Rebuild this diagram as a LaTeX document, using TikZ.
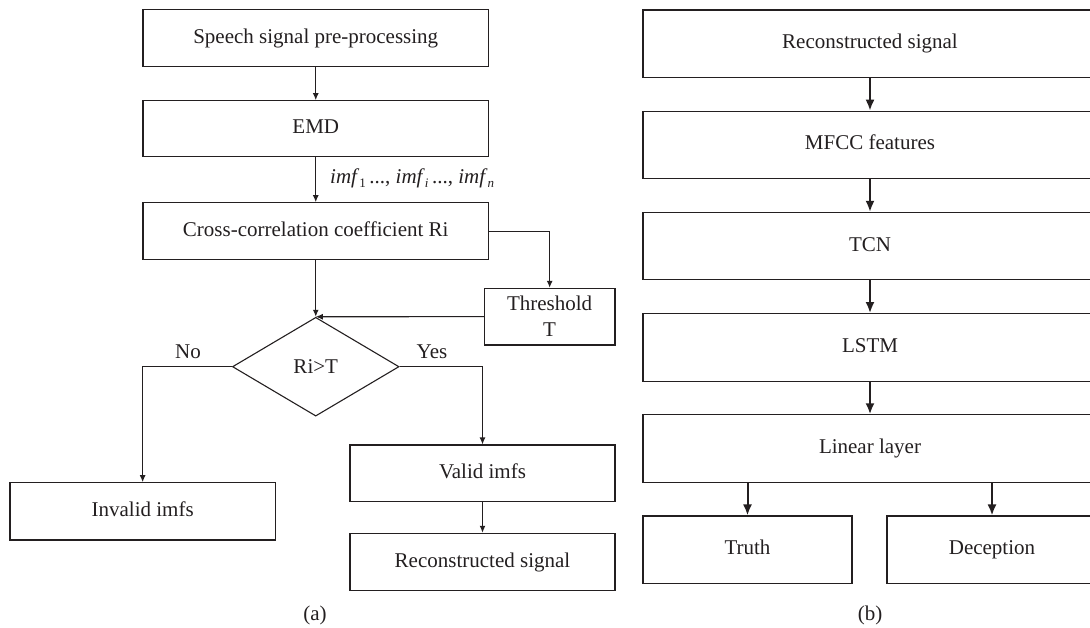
\documentclass[tikz,border=0pt]{standalone}
\usepackage{fontspec}
\setmainfont{Liberation Serif}
\usetikzlibrary{shapes.geometric,arrows.meta}
\definecolor{ink}{HTML}{231F20}
\tikzset{
  box/.style={draw=ink, line width=1.1pt, rectangle, inner sep=0pt, text=ink, font=\fontsize{21}{24}\selectfont},
  onebox/.style={box, text height=14pt, text depth=4pt},
  dbox/.style={draw=ink, line width=1.1pt, diamond, inner sep=0pt, text=ink, font=\fontsize{21}{24}\selectfont},
  lbl/.style={text=ink, inner sep=0pt, font=\fontsize{21}{24}\selectfont},
  thinarrow/.style={draw=ink, line width=1.1pt, -{Latex[length=7pt,width=6pt]}},
  thickarrow/.style={draw=ink, line width=2pt, -{Latex[length=11pt,width=9pt]}},
}
\newcommand{\subi}[1]{\raisebox{-0.5ex}{\fontsize{13}{13}\selectfont #1}}
\begin{document}
\begin{tikzpicture}[x=1pt,y=-1pt]
\useasboundingbox (0,0) rectangle (1090,627);
% ---------- (a) ----------
\node[onebox, minimum width=345.5pt, minimum height=57.4pt] (sp) at (315.75,38) {Speech signal pre-processing};
\node[onebox, minimum width=345.5pt, minimum height=56pt] (emd) at (315.75,128.7) {EMD};
\node[onebox, minimum width=345.5pt, minimum height=56.8pt] (cc) at (315.75,231.1) {Cross-correlation coefficient Ri\hspace{25pt}};
\node[dbox, minimum width=166.6pt, minimum height=98.8pt] (dia) at (315.75,366.7) {Ri>T};
\node[box, minimum width=130.7pt, minimum height=56.7pt, align=center] (thr) at (549.65,316.65) {Threshold\\[2pt]T};
\node[onebox, minimum width=265.3pt, minimum height=57.3pt] (inv) at (142.65,511.35) {Invalid imfs};
\node[onebox, minimum width=265pt, minimum height=56.7pt] (val) at (482.5,473.35) {Valid imfs};
\node[onebox, minimum width=265pt, minimum height=57.4pt] (reca) at (482.5,562) {Reconstructed signal};

\draw[thinarrow] (sp.south) -- (emd.north);
\draw[thinarrow] (emd.south) -- (cc.north);
\draw[thinarrow] (cc.south) -- (dia.north);
\draw[thinarrow] (cc.east) -| (thr.north);
\draw[thinarrow] (thr.west) -- (dia.north);
\draw[thinarrow] (dia.west) -| (inv.north);
\draw[thinarrow] (dia.east) -| (val.north);
\draw[thinarrow] (val.south) -- (reca.north);

\node[lbl, anchor=base west] (imf) at (330,183) {\textit{imf}\subi{1}\,..., \textit{imf}\subi{\itshape i}\,..., \textit{imf}\subi{\itshape n}};
\node[lbl] (no) at (188,352) {No};
\node[lbl] (yes) at (432,352) {Yes};
\node[lbl] (capa) at (315,615) {(a)};

% ---------- (b) ----------
\node[onebox, minimum width=454pt, minimum height=67.5pt] (recb) at (870,43.75) {Reconstructed signal};
\node[onebox, minimum width=454pt, minimum height=67.5pt] (mfcc) at (870,144.95) {MFCC features};
\node[onebox, minimum width=454pt, minimum height=67.5pt] (tcn) at (870,246.15) {TCN};
\node[onebox, minimum width=454pt, minimum height=67.5pt] (lstm) at (870,347.35) {LSTM};
\node[onebox, minimum width=454pt, minimum height=67.5pt] (lin) at (870,448.55) {Linear layer};
\node[onebox, minimum width=209pt, minimum height=67.5pt] (truth) at (747.5,549.75) {Truth};
\node[onebox, minimum width=210pt, minimum height=67.5pt] (dec) at (992,549.75) {Deception};

\draw[thickarrow] (recb.south) -- (mfcc.north);
\draw[thickarrow] (mfcc.south) -- (tcn.north);
\draw[thickarrow] (tcn.south) -- (lstm.north);
\draw[thickarrow] (lstm.south) -- (lin.north);
\draw[thickarrow] (truth.north |- lin.south) -- (truth.north);
\draw[thickarrow] (dec.north |- lin.south) -- (dec.north);

\node[lbl] (capb) at (870,615) {(b)};
\end{tikzpicture}
\end{document}
